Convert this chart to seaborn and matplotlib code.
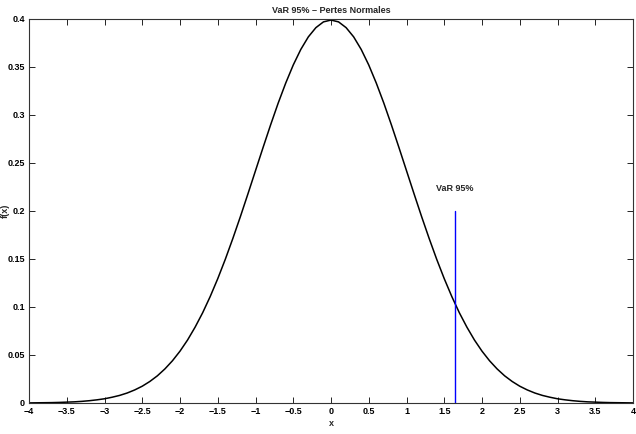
import matplotlib
matplotlib.use("Agg")
import matplotlib.pyplot as plt
import seaborn as sns
import pandas as pd

x_vals = [-4.0, -3.9, -3.8, -3.7, -3.6, -3.5, -3.4, -3.3, -3.2, -3.1,
          -3.0, -2.9, -2.8, -2.7, -2.6, -2.5, -2.4, -2.3, -2.2, -2.1,
          -2.0, -1.9, -1.8, -1.7, -1.6, -1.5, -1.4, -1.3, -1.2, -1.1,
          -1.0, -0.9, -0.8, -0.7, -0.6, -0.5, -0.4, -0.3, -0.2, -0.1,
          0.0, 0.1, 0.2, 0.3, 0.4, 0.5, 0.6, 0.7, 0.8, 0.9,
          1.0, 1.1, 1.2, 1.3, 1.4, 1.5, 1.6, 1.7, 1.8, 1.9,
          2.0, 2.1, 2.2, 2.3, 2.4, 2.5, 2.6, 2.7, 2.8, 2.9,
          3.0, 3.1, 3.2, 3.3, 3.4, 3.5, 3.6, 3.7, 3.8, 3.9, 4.0]
fx_vals = [0.0001, 0.0002, 0.0003, 0.0004, 0.0006, 0.0009, 0.0012, 0.0017, 0.0024, 0.0033,
           0.0044, 0.0060, 0.0079, 0.0104, 0.0136, 0.0175, 0.0224, 0.0283, 0.0355, 0.0440,
           0.0540, 0.0656, 0.0790, 0.0940, 0.1109, 0.1295, 0.1497, 0.1714, 0.1942, 0.2179,
           0.2420, 0.2661, 0.2897, 0.3123, 0.3332, 0.3521, 0.3683, 0.3814, 0.3910, 0.3970,
           0.3989, 0.3970, 0.3910, 0.3814, 0.3683, 0.3521, 0.3332, 0.3123, 0.2897, 0.2661,
           0.2420, 0.2179, 0.1942, 0.1714, 0.1497, 0.1295, 0.1109, 0.0940, 0.0790, 0.0656,
           0.0540, 0.0440, 0.0355, 0.0283, 0.0224, 0.0175, 0.0136, 0.0104, 0.0079, 0.0060,
           0.0044, 0.0033, 0.0024, 0.0017, 0.0012, 0.0009, 0.0006, 0.0004, 0.0003, 0.0002, 0.0001]

var_x = 1.645
var_top = 0.2
var_label = "VaR 95%"

x_ticks = [-4, -3.5, -3, -2.5, -2, -1.5, -1, -0.5, 0, 0.5, 1, 1.5, 2, 2.5, 3, 3.5, 4]
x_tick_labels = ["\u22124", "\u22123.5", "\u22123", "\u22122.5", "\u22122", "\u22121.5", "\u22121", "\u22120.5",
                 "0", "0.5", "1", "1.5", "2", "2.5", "3", "3.5", "4"]
y_ticks = [0, 0.05, 0.1, 0.15, 0.2, 0.25, 0.3, 0.35, 0.4]
y_tick_labels = ["0", "0.05", "0.1", "0.15", "0.2", "0.25", "0.3", "0.35", "0.4"]

sns.set_theme(style="white")
plt.rcParams['font.family'] = ['Liberation Sans', 'DejaVu Sans']
plt.rcParams['font.weight'] = 'bold'

fig = plt.figure(figsize=(6.36, 4.34), dpi=100)
ax = fig.add_axes([29/636, 1-403/434, (633-29)/636, (403-19)/434])

df = pd.DataFrame({"x": x_vals, "fx": fx_vals})
sns.lineplot(data=df, x="x", y="fx", ax=ax, color="black", linewidth=1.1)
ax.plot([var_x, var_x], [0, var_top], color="blue", linewidth=1.0)
ax.text(var_x, 0.2235, var_label, ha="center", va="center", fontsize=6.5, fontweight="bold")

ax.set_xlim(-4, 4)
ax.set_ylim(0, 0.4)
ax.set_xticks(x_ticks)
ax.set_xticklabels(x_tick_labels, fontsize=6.5, fontweight="bold")
ax.set_yticks(y_ticks)
ax.set_yticklabels(y_tick_labels, fontsize=6.5, fontweight="bold")
ax.tick_params(direction="in", length=4, width=0.6, top=True, right=True, bottom=True, left=True,
               pad=3, colors="black")
ax.set_xlabel("x", fontsize=6.5, fontweight="bold", labelpad=2)
ax.set_ylabel("f(x)", fontsize=6.5, fontweight="bold")
ax.yaxis.set_label_coords(-24/604, 0.5)
ax.yaxis.label.set_verticalalignment("center")
ax.set_title("VaR 95% \u2013 Pertes Normales", fontsize=6.5, fontweight="bold", pad=4)
for s in ax.spines.values():
    s.set_visible(True)
    s.set_color("#333333")
    s.set_linewidth(0.8)

fig.savefig("out.png", dpi=100)
